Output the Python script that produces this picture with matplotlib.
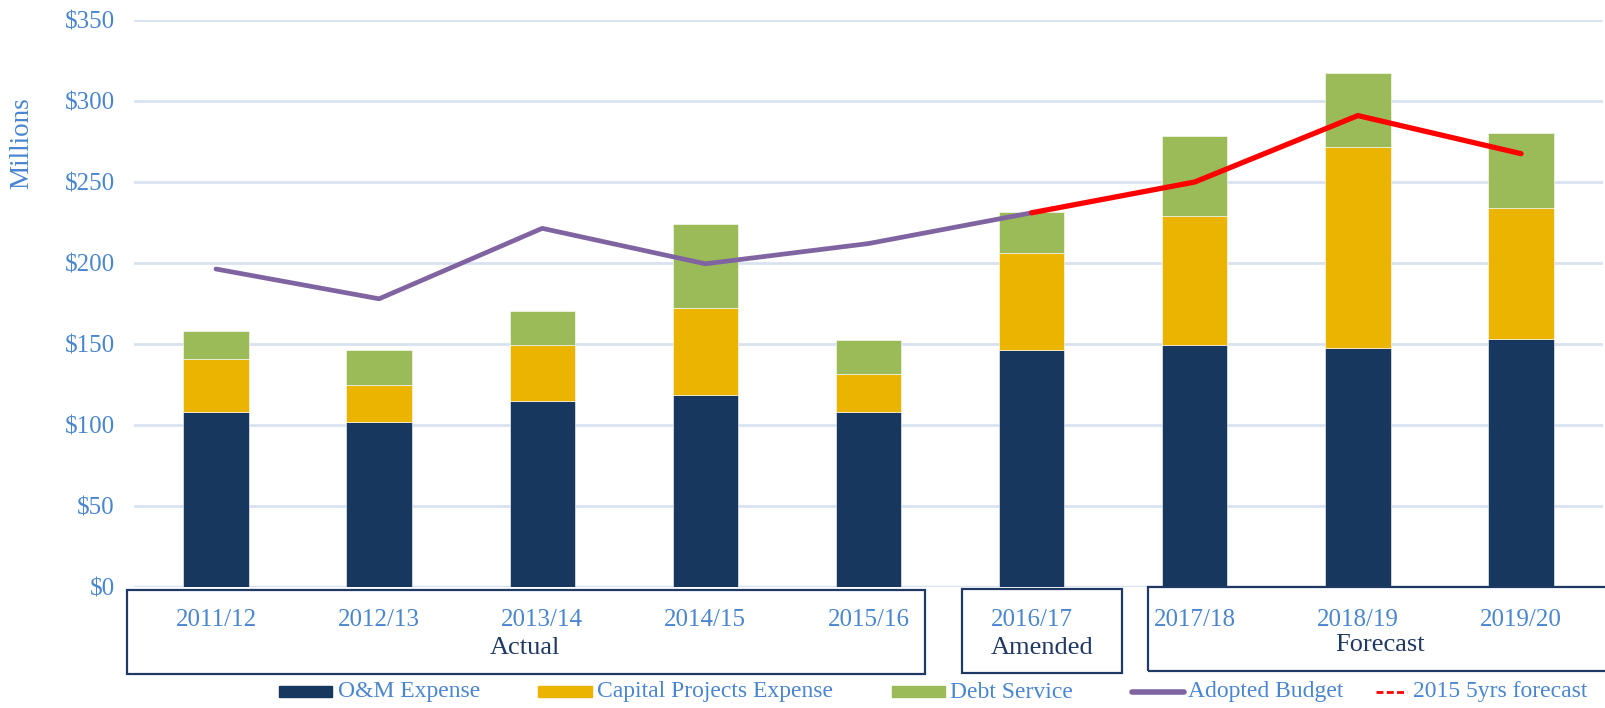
import matplotlib
matplotlib.use("Agg")
import matplotlib.pyplot as plt
from matplotlib.patches import Rectangle
from matplotlib.lines import Line2D
import numpy as np

years = ["2011/12", "2012/13", "2013/14", "2014/15", "2015/16",
         "2016/17", "2017/18", "2018/19", "2019/20"]
om_expense = [107.8, 101.9, 114.6, 118.4, 108.3, 146.2, 149.4, 147.5, 153.2]
capital_projects = [32.7, 22.8, 34.8, 53.8, 23.4, 60.0, 79.5, 124.3, 80.8]
debt_service = [17.7, 21.5, 20.9, 51.9, 20.9, 25.4, 49.4, 45.6, 46.0]
adopted_budget = [196.3, 177.9, 221.4, 199.5, 212.0, 231.0]
forecast_2015 = [231.0, 250.0, 291.0, 267.5]
group_labels = ["Actual", "Amended", "Forecast"]
legend_labels = ["O&M Expense", "Capital Projects Expense", "Debt Service",
                 "Adopted Budget", "2015 5yrs forecast"]
yticks = [0, 50, 100, 150, 200, 250, 300, 350]

C_OM = "#17375E"
C_CAP = "#EBB400"
C_DEBT = "#9BBB59"
C_ADOPT = "#8064A2"
C_RED = "#FF0000"
C_TEXT = "#4A86CF"
C_NAVY = "#1F3864"
C_GRID = "#D9E2F1"

W, H = 1606, 708
fig = plt.figure(figsize=(W / 100, H / 100), dpi=100)
plt.rcParams['font.family'] = ['Liberation Serif', 'DejaVu Serif']

def fx(px):
    return px / W

def fy(py):
    return 1 - py / H

ax = fig.add_axes([fx(134.4), fy(587), fx(1602.6) - fx(134.4), fy(20) - fy(587)])
x = np.arange(len(years))
bw = 0.40
om = np.array(om_expense)
cap = np.array(capital_projects)
debt = np.array(debt_service)
ax.bar(x, om, bw, color=C_OM, edgecolor="white", linewidth=0.4, zorder=3)
ax.bar(x, cap, bw, bottom=om, color=C_CAP, edgecolor="white", linewidth=0.4, zorder=3)
ax.bar(x, debt, bw, bottom=om + cap, color=C_DEBT, edgecolor="white", linewidth=0.4, zorder=3)

ax.plot(x[:len(adopted_budget)], adopted_budget, color=C_ADOPT, lw=3.4,
        solid_capstyle="round", zorder=4)
ax.plot(x[5:5 + len(forecast_2015)], forecast_2015, color=C_RED, lw=3.8,
        solid_capstyle="round", zorder=5)

ax.set_xlim(-0.5, 8.5)
ax.set_ylim(0, 350)
ax.set_yticks(yticks)
ax.set_yticklabels([f"${v}" for v in yticks], color=C_TEXT, fontsize=18)
ax.tick_params(axis="y", length=0, pad=14)
ax.set_xticks([])
ax.grid(axis="y", color=C_GRID, lw=2, zorder=0)
for s in ax.spines.values():
    s.set_visible(False)
ax.axhline(0, color=C_GRID, lw=2.5, zorder=2)

fig.text(fx(22), fy(143), "Millions", rotation=90, ha="center", va="center",
         color=C_TEXT, fontsize=19.5)

# category labels under axis
for i, yr in enumerate(years):
    xd = ax.transData.transform((i, 0))[0]
    fig.text(xd / W, fy(620), yr, ha="center", va="center", color=C_TEXT, fontsize=18)

# group boxes
boxes = [(127, 590, 925, 674), (962, 589, 1122, 673), (1148, 587, 1640, 671)]
for (x0, y0, x1, y1) in boxes:
    fig.patches.append(Rectangle((fx(x0), fy(y1)), fx(x1) - fx(x0), fy(y0) - fy(y1),
                                 transform=fig.transFigure, fill=False,
                                 edgecolor=C_NAVY, lw=1.6, clip_on=False))
group_pos = [(525, 648), (1042, 648), (1380, 645)]
for lab, (gx, gy) in zip(group_labels, group_pos):
    fig.text(fx(gx), fy(gy), lab, ha="center", va="center", color=C_NAVY, fontsize=19)

# legend
ly = 692
for (x0, x1, c) in [(279, 332, C_OM), (538, 592, C_CAP), (892, 945, C_DEBT)]:
    fig.patches.append(Rectangle((fx(x0), fy(697)), fx(x1) - fx(x0), fy(686) - fy(697),
                                 transform=fig.transFigure, color=c))
fig.lines.append(Line2D([fx(1132), fx(1184)], [fy(ly), fy(ly)], transform=fig.transFigure,
                        color=C_ADOPT, lw=4, solid_capstyle="round"))
fig.lines.append(Line2D([fx(1376), fx(1407)], [fy(ly), fy(ly)], transform=fig.transFigure,
                        color=C_RED, lw=2, linestyle=(0, (2.5, 1.2))))
for lab, tx in zip(legend_labels, [338, 597, 950, 1188, 1413]):
    fig.text(fx(tx), fy(ly), lab, ha="left", va="center", color=C_TEXT, fontsize=17)

fig.savefig("out.png", dpi=100)
